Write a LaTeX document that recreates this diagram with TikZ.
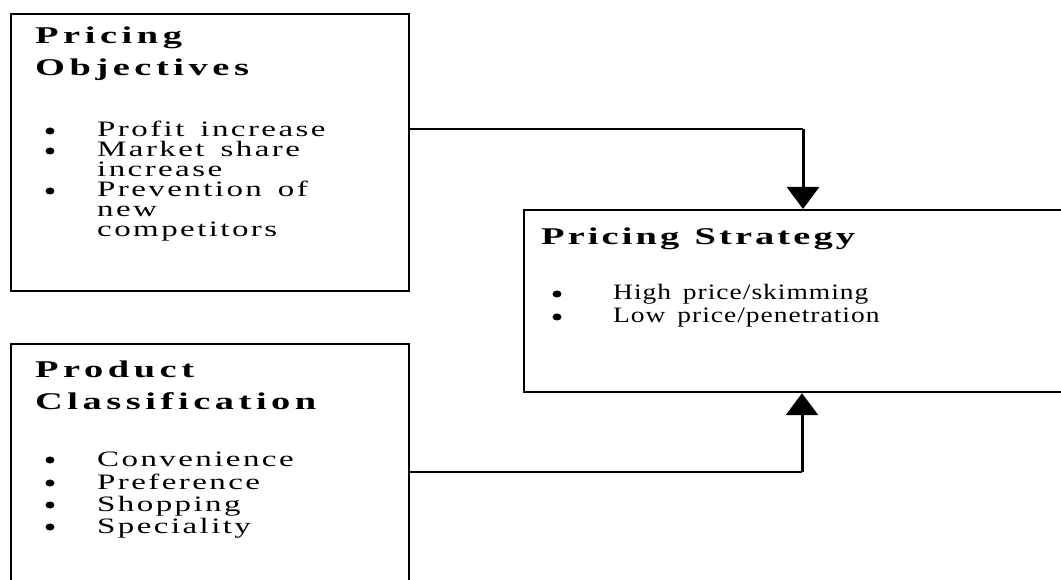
\documentclass[tikz,border=0pt]{standalone}
\usepackage{fontspec}
\setmainfont{Liberation Serif}
\newfontfamily\headfont[FakeStretch=1.6,LetterSpace=19,WordSpace=1.2]{Liberation Serif}
\newfontfamily\stratheadfont[FakeStretch=1.6,LetterSpace=13,WordSpace=1.2]{Liberation Serif}
\newfontfamily\itemfont[FakeStretch=1.5,LetterSpace=11,WordSpace=1.5]{Liberation Serif}
\newfontfamily\stratfont[FakeStretch=1.25,LetterSpace=4.5,WordSpace=1.5]{Liberation Serif}
\usetikzlibrary{arrows.meta,shapes.geometric}

\begin{document}
\begin{tikzpicture}[x=1pt,y=-1pt,
  frame/.style={draw,line width=2.2pt,inner sep=0pt,anchor=north west},
  head/.style={anchor=base west,inner sep=0pt,font=\headfont\bfseries\fontsize{24pt}{26pt}\selectfont},
  shead/.style={anchor=base west,inner sep=0pt,font=\stratheadfont\bfseries\fontsize{24pt}{26pt}\selectfont},
  item/.style={anchor=base west,inner sep=0pt,font=\itemfont\fontsize{22pt}{22pt}\selectfont},
  sitem/.style={anchor=base west,inner sep=0pt,font=\stratfont\fontsize{22pt}{22pt}\selectfont},
  dot/.style={ellipse,fill,inner sep=0pt,minimum width=9pt,minimum height=7pt},
  feed/.style={line width=2pt},
  into/.style={line width=3pt,-{Triangle[width=32pt,length=22pt]}}]

\useasboundingbox (0,0) rectangle (1061,580);
\clip (0,0) rectangle (1061,580);

% boxes
\node[frame,minimum width=398pt,minimum height=277pt] (obj) at (10,13) {};
\node[frame,minimum width=398pt,minimum height=280pt] (prod) at (10,343) {};
\node[frame,minimum width=600pt,minimum height=182pt] (strat) at (523,209) {};

% pricing objectives
\node[head] (oh1) at (35,44) {Pricing};
\node[head] (oh2) at (35,76) {Objectives};
\node[dot] (ob1) at (50,131) {};
\node[item] (oi1) at (97,137) {Profit increase};
\node[dot] (ob2) at (50,151) {};
\node[item] (oi2) at (97,157) {Market share};
\node[item] (oi3) at (97,177) {increase};
\node[dot] (ob3) at (50,191) {};
\node[item] (oi4) at (97,197) {Prevention of};
\node[item] (oi5) at (97,217) {new};
\node[item] (oi6) at (97,237) {competitors};

% product classification
\node[head] (ph1) at (35,377) {Product};
\node[head] (ph2) at (35,409) {Classification};
\node[dot] (pb1) at (50,460) {};
\node[item] (pi1) at (97,466) {Convenience};
\node[dot] (pb2) at (50,483) {};
\node[item] (pi2) at (97,489) {Preference};
\node[dot] (pb3) at (50,505) {};
\node[item] (pi3) at (97,511) {Shopping};
\node[dot] (pb4) at (50,527) {};
\node[item] (pi4) at (97,533) {Speciality};

% pricing strategy
\node[shead] (sh1) at (541,245) {Pricing Strategy};
\node[dot] (sb1) at (557,294) {};
\node[sitem] (si1) at (613,300) {High price/skimming};
\node[dot] (sb2) at (557,317) {};
\node[sitem] (si2) at (613,323) {Low price/penetration};

% connectors
\coordinate (k1) at (803,129);
\coordinate (k2) at (802,472);
\draw[feed] (k1 -| obj.east) -- (k1);
\draw[into] (k1) -- (k1 |- strat.north);
\draw[feed] (k2 -| prod.east) -- (k2);
\draw[into] (k2) -- (k2 |- strat.south);
\end{tikzpicture}
\end{document}
